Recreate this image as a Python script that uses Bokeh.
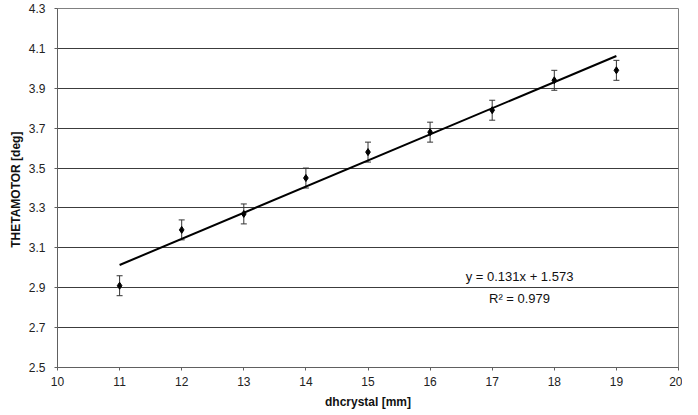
import numpy as np
from bokeh.plotting import figure
from bokeh.models import ColumnDataSource, Whisker, FixedTicker, TeeHead, Label, CustomJSTickFormatter
from bokeh.embed import file_html
from bokeh.resources import INLINE

# data
dhcrystal = [11, 12, 13, 14, 15, 16, 17, 18, 19]
thetamotor = [2.91, 3.19, 3.27, 3.45, 3.58, 3.68, 3.79, 3.94, 3.99]
err = [0.05, 0.05, 0.05, 0.05, 0.05, 0.05, 0.05, 0.05, 0.05]
fit_slope = 0.131
fit_intercept = 1.573
r2 = 0.979
x_ticks = [10, 11, 12, 13, 14, 15, 16, 17, 18, 19, 20]
y_ticks = [2.5, 2.7, 2.9, 3.1, 3.3, 3.5, 3.7, 3.9, 4.1, 4.3]

FONT = "Liberation Sans"

p = figure(width=682, height=414, output_backend="svg", toolbar_location=None,
           x_range=(10, 20), y_range=(2.5, 4.3),
           min_border_left=57, min_border_right=4, min_border_top=8, min_border_bottom=47)
p.background_fill_color = "white"
p.border_fill_color = "white"
p.outline_line_color = "#808080"
p.outline_line_width = 1

p.xgrid.visible = False
p.ygrid.grid_line_color = "#3c3c3c"
p.ygrid.grid_line_width = 1
p.ygrid.ticker = FixedTicker(ticks=y_ticks)

p.xaxis.ticker = FixedTicker(ticks=x_ticks)
p.yaxis.ticker = FixedTicker(ticks=y_ticks)
p.yaxis.formatter = CustomJSTickFormatter(code="return tick.toFixed(1);")

for ax in (p.xaxis, p.yaxis):
    ax.axis_line_color = "#606060"
    ax.major_tick_line_color = "#606060"
    ax.major_tick_out = 3
    ax.major_tick_in = 0
    ax.minor_tick_line_color = None
    ax.major_label_text_font = FONT
    ax.major_label_text_font_size = "12px"
    ax.major_label_text_color = "#222222"
    ax.axis_label_text_font = FONT
    ax.axis_label_text_font_size = "12px"
    ax.axis_label_text_font_style = "bold"
    ax.axis_label_text_color = "#111111"

p.xaxis.axis_label = "dhcrystal [mm]"
p.yaxis.axis_label = "THETAMOTOR  [deg]"
p.xaxis.major_label_standoff = 6
p.xaxis.axis_label_standoff = 6
p.yaxis.major_label_standoff = 9
p.yaxis.axis_label_standoff = 3

x = np.array(dhcrystal, dtype=float)
y = np.array(thetamotor)
e = np.array(err)
src = ColumnDataSource(dict(x=x, y=y, lo=y - e, hi=y + e))

w = Whisker(base="x", upper="hi", lower="lo", source=src, dimension="height",
            line_color="#333333", line_width=1,
            upper_head=TeeHead(size=6, line_color="#333333", line_width=1),
            lower_head=TeeHead(size=6, line_color="#333333", line_width=1))
p.add_layout(w)

xf = np.array([min(dhcrystal), max(dhcrystal)], dtype=float)
p.line(xf, fit_slope * xf + fit_intercept, line_color="black", line_width=2)

p.scatter("x", "y", source=src, marker="diamond", size=7, fill_color="black", line_color="black")

eq = f"y = {fit_slope:.3f}x + {fit_intercept:.3f}"
p.add_layout(Label(x=17.44, y=2.955, text=eq, text_align="center", text_baseline="middle",
                   text_font=FONT, text_font_size="13px", text_color="#111111"))
p.add_layout(Label(x=17.44, y=2.848, text=f"R\u00b2 = {r2:.3f}", text_align="center",
                   text_baseline="middle", text_font=FONT, text_font_size="13px",
                   text_color="#111111"))

open("out.html", "w").write(file_html(p, INLINE))
